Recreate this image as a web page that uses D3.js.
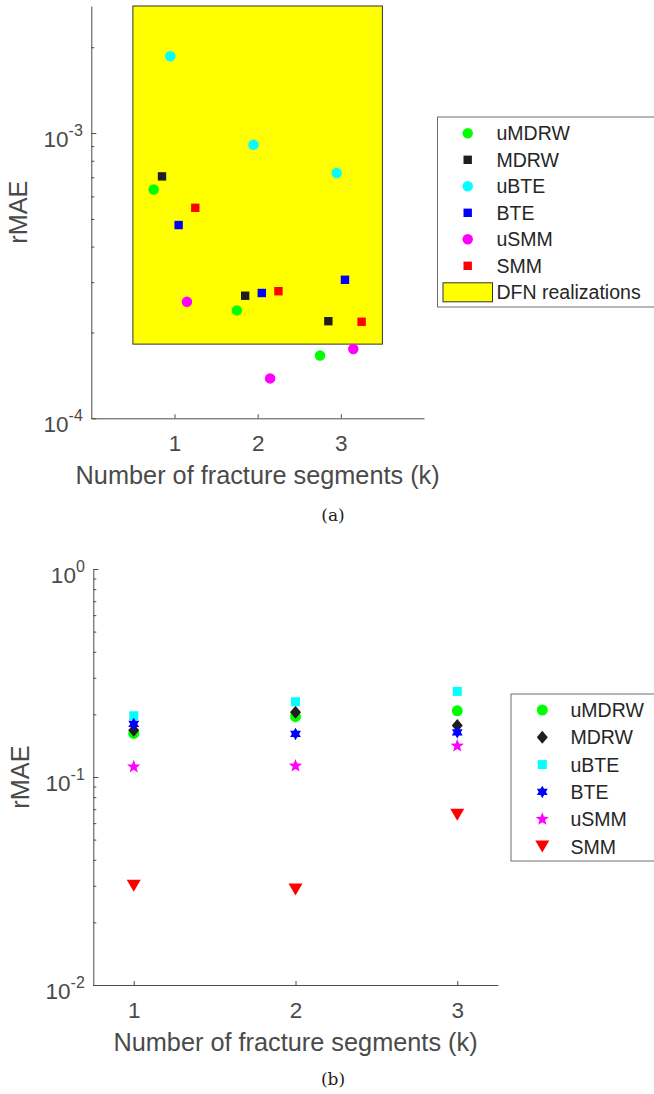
<!DOCTYPE html>
<html>
<head>
<meta charset="utf-8">
<script src="https://cdn.jsdelivr.net/npm/d3@7"></script>
<style>
  html, body { margin: 0; padding: 0; background: #fff; }
  svg { display: block; }
</style>
</head>
<body>
<svg id="fig" width="654" height="1094"></svg>
<script>
// ---- data -------------------------------------------------------------
// Number of fracture segments k
const segments = [1, 2, 3];

// Panel (a): rMAE of each method for k = 1, 2, 3
const aUMDRW = [6.34e-4, 2.39e-4, 1.66e-4];
const aMDRW  = [7.05e-4, 2.69e-4, 2.19e-4];
const aUBTE  = [1.86e-3, 9.10e-4, 7.24e-4];
const aBTE   = [4.76e-4, 2.75e-4, 3.06e-4];
const aUSMM  = [2.56e-4, 1.38e-4, 1.75e-4];
const aSMM   = [5.47e-4, 2.79e-4, 2.18e-4];
// Spread of the DFN realizations (rMAE range and k range covered)
const dfnRange = [1.82e-4, 2.79e-3];
const dfnK = [0.5, 3.5];

// Panel (b): rMAE of each method for k = 1, 2, 3
const bUMDRW = [0.162, 0.195, 0.208];
const bMDRW  = [0.168, 0.205, 0.177];
const bUBTE  = [0.197, 0.230, 0.258];
const bBTE   = [0.180, 0.161, 0.164];
const bUSMM  = [0.112, 0.113, 0.141];
const bSMM   = [0.0300, 0.0288, 0.0659];

// Axis limits and tick labels
const xDomainA = [0, 4];
const yDomainA = [1e-4, 2.79e-3];
const xDomainB = [0.75, 3.25];
const yDomainB = [1e-2, 1];
const xTickLabels = ["1", "2", "3"];
const yTicksA = [1e-4, 1e-3];
const yTickExpA = ["-4", "-3"];
const yTicksB = [1e-2, 1e-1, 1];
const yTickExpB = ["-2", "-1", "0"];

const methodNames = ["uMDRW", "MDRW", "uBTE", "BTE", "uSMM", "SMM"];

// ---- marker shapes ----------------------------------------------------
const shapes = {
  circle: d => { const r = d / 2; return `M${r},0A${r},${r},0,1,1,${-r},0A${r},${r},0,1,1,${r},0Z`; },
  square: d => { const h = d / 2; return `M${-h},${-h}H${h}V${h}H${-h}Z`; },
  diamond: (w, h) => `M0,${-h / 2}L${w / 2},0L0,${h / 2}L${-w / 2},0Z`,
  triDown: (w, h) => `M${-w / 2},${-h / 2}L${w / 2},${-h / 2}L0,${h / 2}Z`,
  star: (d, n, inner) => {
    const R = d / 2, r = R * inner, pts = [];
    for (let i = 0; i < 2 * n; i++) {
      const a = -Math.PI / 2 + i * Math.PI / n, rr = i % 2 ? r : R;
      pts.push([rr * Math.cos(a), rr * Math.sin(a)]);
    }
    return "M" + pts.map(p => p[0].toFixed(2) + "," + p[1].toFixed(2)).join("L") + "Z";
  }
};
const pentagram = d => shapes.star(d, 5, 0.42);
const hexagram = d => shapes.star(d, 6, 0.577);

const seriesA = [
  { name: methodNames[0], values: aUMDRW, color: "#00ff00", path: shapes.circle(10.5) },
  { name: methodNames[1], values: aMDRW,  color: "#1e1e1e", path: shapes.square(8.4) },
  { name: methodNames[2], values: aUBTE,  color: "#00ffff", path: shapes.circle(10.5) },
  { name: methodNames[3], values: aBTE,   color: "#0000ff", path: shapes.square(8.4) },
  { name: methodNames[4], values: aUSMM,  color: "#ff00ff", path: shapes.circle(10.5) },
  { name: methodNames[5], values: aSMM,   color: "#ff0000", path: shapes.square(8.4) }
];
const seriesB = [
  { name: methodNames[0], values: bUMDRW, color: "#00ff00", path: shapes.circle(11) },
  { name: methodNames[1], values: bMDRW,  color: "#1e1e1e", path: shapes.diamond(11, 13) },
  { name: methodNames[2], values: bUBTE,  color: "#00ffff", path: shapes.square(9) },
  { name: methodNames[3], values: bBTE,   color: "#0000ff", path: hexagram(12.5) },
  { name: methodNames[4], values: bUSMM,  color: "#ff00ff", path: pentagram(14) },
  { name: methodNames[5], values: bSMM,   color: "#ff0000", path: shapes.triDown(14, 12) }
];

// ---- drawing ----------------------------------------------------------
const FONT = "'Liberation Sans', Arial, Helvetica, sans-serif";
const SERIF = "'DejaVu Serif', 'Liberation Serif', serif";
const AX = "#4a4a4a";
const svg = d3.select("#fig");
svg.append("rect").attr("width", 654).attr("height", 1094).attr("fill", "#fff");

function minorTicks(domain) {
  const out = [];
  const lo = Math.floor(Math.log10(domain[0])), hi = Math.ceil(Math.log10(domain[1]));
  for (let e = lo; e < hi; e++)
    for (let m = 2; m <= 9; m++) {
      const v = m * Math.pow(10, e);
      if (v > domain[0] && v < domain[1]) out.push(v);
    }
  return out;
}

function panel(g, cfg) {
  const x = d3.scaleLinear().domain(cfg.xDomain).range(cfg.xRange);
  const y = d3.scaleLog().domain(cfg.yDomain).range(cfg.yRange);
  const x0 = cfg.xRange[0], y0 = cfg.yRange[0];

  if (cfg.background) cfg.background(g, x, y);

  // y axis: major ticks inside, labels written as 10^e
  const yAxis = d3.axisLeft(y).tickValues(cfg.yTicks).tickSizeInner(-5).tickSizeOuter(0)
    .tickPadding(8.5).tickFormat(() => "");
  const gy = g.append("g").attr("transform", `translate(${x0},0)`).call(yAxis);
  g.append("g").attr("transform", `translate(${x0},0)`)
    .call(d3.axisLeft(y).tickValues(minorTicks(cfg.yDomain)).tickSizeInner(-3).tickSizeOuter(0).tickFormat(() => ""))
    .select(".domain").remove();
  gy.selectAll(".tick text").each(function(d, i) {
    const t = d3.select(this).attr("x", -8.5).attr("dy", null).attr("y", 13)
      .attr("text-anchor", "end");
    t.append("tspan").text("10").attr("font-size", 22.5);
    t.append("tspan").text(cfg.yTickExp[i]).attr("font-size", 16).attr("dy", -10.5);
  });

  // x axis
  const xAxis = d3.axisBottom(x).tickValues(segments).tickSizeInner(-4).tickSizeOuter(0)
    .tickPadding(0).tickFormat((d, i) => xTickLabels[i]);
  const gx = g.append("g").attr("transform", `translate(0,${y0})`).call(xAxis);
  gx.selectAll(".tick text").attr("dy", null).attr("y", 32.5).attr("font-size", 22.5);

  g.selectAll(".domain, .tick line").attr("stroke", AX).attr("stroke-width", 1);
  g.selectAll(".tick text").attr("fill", AX).attr("font-family", FONT);
  g.selectAll("g").attr("font-family", FONT);

  // axis titles
  g.append("text").attr("x", (cfg.xRange[0] + cfg.xRange[1]) / 2).attr("y", y0 + 66)
    .attr("text-anchor", "middle").attr("font-family", FONT).attr("font-size", 25.3)
    .attr("fill", AX).text("Number of fracture segments (k)");
  g.append("text")
    .attr("transform", `translate(${x0 - 64},${(cfg.yRange[0] + cfg.yRange[1]) / 2}) rotate(-90)`)
    .attr("text-anchor", "middle").attr("font-family", FONT).attr("font-size", 25.3)
    .attr("fill", AX).text("rMAE");

  // markers, dodged horizontally around each k when cfg.dodge > 0
  cfg.series.forEach((s, si) => {
    const off = cfg.dodge * (si - (cfg.series.length - 1) / 2);
    g.append("g").selectAll("path").data(s.values).join("path")
      .attr("transform", (v, i) => `translate(${x(segments[i] + off)},${y(v)})`)
      .attr("d", s.path).attr("fill", s.color);
  });
}

function legend(g, cfg) {
  g.append("rect").attr("x", cfg.x).attr("y", cfg.y).attr("width", cfg.w).attr("height", cfg.h)
    .attr("fill", "#fff").attr("stroke", "#6e6e6e").attr("stroke-width", 1);
  cfg.items.forEach((it, i) => {
    const cy = cfg.firstY + i * cfg.step;
    if (it.patch) {
      g.append("rect").attr("x", cfg.x + 5.5).attr("y", cy - 9.5).attr("width", 49.5).attr("height", 19)
        .attr("fill", it.patch).attr("stroke", "#333").attr("stroke-width", 1);
    } else {
      g.append("path").attr("transform", `translate(${cfg.markX},${cy})`).attr("d", it.path).attr("fill", it.color);
    }
    g.append("text").attr("x", cfg.textX).attr("y", cy + 7).attr("font-family", FONT)
      .attr("font-size", 19.5).attr("fill", "#262626").text(it.name);
  });
}

// Panel (a)
const gA = svg.append("g");
panel(gA, {
  xDomain: xDomainA, xRange: [91.3, 424], yDomain: yDomainA, yRange: [418.3, 6],
  yTicks: yTicksA, yTickExp: yTickExpA, series: seriesA, dodge: 0.1,
  background: (g, x, y) => {
    g.append("rect").attr("x", x(dfnK[0])).attr("y", y(dfnRange[1]))
      .attr("width", x(dfnK[1]) - x(dfnK[0])).attr("height", y(dfnRange[0]) - y(dfnRange[1]))
      .attr("fill", "#ffff00").attr("stroke", "#333").attr("stroke-width", 1);
  }
});
legend(gA, {
  x: 437.5, y: 117, w: 230, h: 190, markX: 467.7, textX: 496.5, firstY: 133.3, step: 26.5,
  items: seriesA.map(s => ({ name: s.name, color: s.color, path: s.path }))
    .concat([{ name: "DFN realizations", patch: "#ffff00" }])
});
svg.append("text").attr("x", 333).attr("y", 521).attr("text-anchor", "middle")
  .attr("font-family", SERIF).attr("font-size", 17).attr("fill", "#222").text("(a)");

// Panel (b)
const gB = svg.append("g");
panel(gB, {
  xDomain: xDomainB, xRange: [93.3, 497.7], yDomain: yDomainB, yRange: [985, 569],
  yTicks: yTicksB, yTickExp: yTickExpB, series: seriesB, dodge: 0
});
legend(gB, {
  x: 511, y: 694, w: 160, h: 167, markX: 542.3, textX: 570.5, firstY: 710, step: 27.3,
  items: seriesB.map(s => ({ name: s.name, color: s.color, path: s.path }))
});
svg.append("text").attr("x", 333).attr("y", 1085).attr("text-anchor", "middle")
  .attr("font-family", SERIF).attr("font-size", 17).attr("fill", "#222").text("(b)");
</script>
</body>
</html>
